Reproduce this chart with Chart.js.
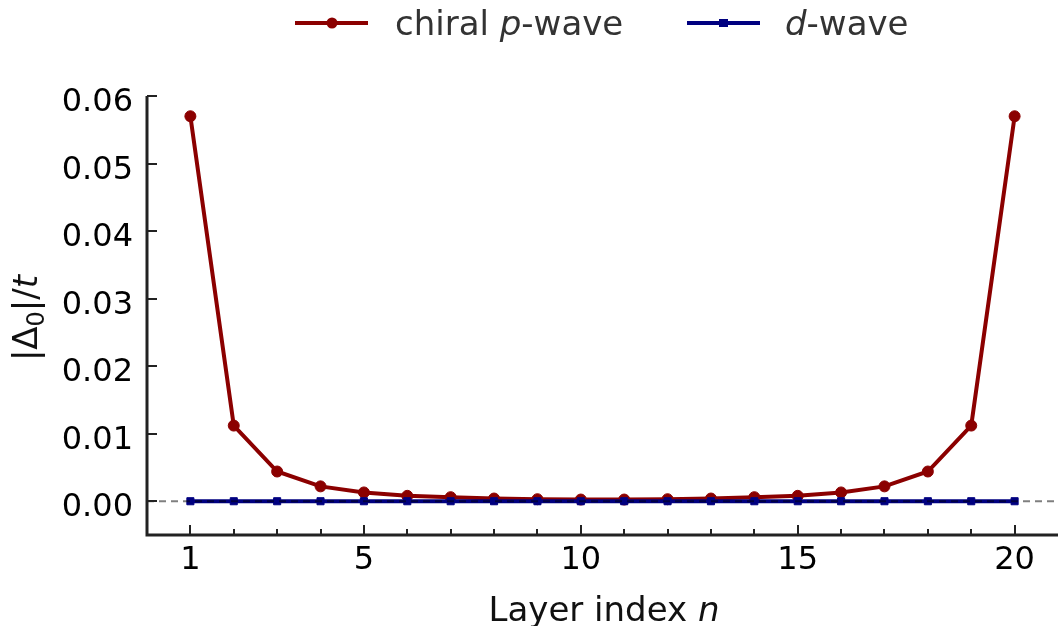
<!DOCTYPE html>
<html>
<head>
<meta charset="utf-8">
<script src="https://cdn.jsdelivr.net/npm/chart.js@4.4.1/dist/chart.umd.min.js"></script>
<style>
  html, body { margin: 0; padding: 0; background: #ffffff; overflow: hidden; }
  #wrap { position: relative; width: 1058px; height: 626px; }
</style>
</head>
<body>
<div id="wrap"><canvas id="c"></canvas></div>
<script>
// ---- data ----
const layers = [1,2,3,4,5,6,7,8,9,10,11,12,13,14,15,16,17,18,19,20];
const pWave = [0.0570,0.0112,0.0044,0.0022,0.0013,0.0008,0.0006,0.0004,0.0003,0.00025,
               0.00025,0.0003,0.0004,0.0006,0.0008,0.0013,0.0022,0.0044,0.0112,0.0570];
const dWave = [0,0,0,0,0,0,0,0,0,0,0,0,0,0,0,0,0,0,0,0];
const xMajorTicks = [1,5,10,15,20];
const xMinorTicks = [1,2,3,4,5,6,7,8,9,10,11,12,13,14,15,16,17,18,19,20];
const yTicks = [0,0.01,0.02,0.03,0.04,0.05,0.06];
const yTickLabels = ['0.00','0.01','0.02','0.03','0.04','0.05','0.06'];
const seriesNames = ['chiral p-wave', 'd-wave'];

const RED = '#8b0000';
const NAVY = '#000080';
const FONT = '"DejaVu Sans", Verdana, sans-serif';

function pts(ys) { return layers.map((x, i) => ({ x: x, y: ys[i] })); }

// draws text made of runs [{t, italic, sub}]
function drawRuns(ctx, runs, x, y, size, align) {
  const fontFor = r => (r.italic ? 'italic ' : '') + (r.sub ? Math.round(size * 0.7) : size) + 'px ' + FONT;
  let total = 0;
  runs.forEach(r => { ctx.font = fontFor(r); total += ctx.measureText(r.t).width; });
  let cx = align === 'center' ? x - total / 2 : x;
  ctx.textAlign = 'left';
  ctx.textBaseline = 'alphabetic';
  runs.forEach(r => {
    ctx.font = fontFor(r);
    ctx.fillText(r.t, cx, y + (r.sub ? size * 0.22 : 0));
    cx += ctx.measureText(r.t).width;
  });
}

const decor = {
  id: 'decor',
  afterDatasetsDraw(chart) {
    const { ctx, chartArea: a, scales: { x, y } } = chart;
    // dashed zero line
    ctx.save();
    ctx.strokeStyle = 'rgba(0,0,0,0.5)';
    ctx.lineWidth = 2;
    ctx.setLineDash([7, 5]);
    const y0 = y.getPixelForValue(0);
    ctx.beginPath(); ctx.moveTo(a.left, y0); ctx.lineTo(a.right, y0); ctx.stroke();
    ctx.restore();
  },
  afterDraw(chart) {
    const { ctx, chartArea: a, scales: { x, y } } = chart;
    ctx.save();
    // spines
    ctx.strokeStyle = '#222';
    ctx.lineWidth = 3;
    ctx.beginPath();
    ctx.moveTo(a.left, a.top); ctx.lineTo(a.left, a.bottom); ctx.lineTo(a.right, a.bottom);
    ctx.stroke();
    // inward ticks
    ctx.lineWidth = 2;
    ctx.beginPath();
    yTicks.forEach(v => { const py = Math.round(y.getPixelForValue(v)); ctx.moveTo(a.left, py); ctx.lineTo(a.left + 10, py); });
    xMinorTicks.forEach(v => {
      const px = Math.round(x.getPixelForValue(v));
      const len = xMajorTicks.includes(v) ? 10 : 6;
      ctx.moveTo(px, a.bottom); ctx.lineTo(px, a.bottom - len);
    });
    ctx.stroke();

    // y tick labels
    ctx.fillStyle = '#000';
    ctx.font = '32px ' + FONT;
    ctx.textAlign = 'right';
    ctx.textBaseline = 'alphabetic';
    yTicks.forEach((v, i) => {
      ctx.fillText(yTickLabels[i], a.left - 14, y.getPixelForValue(v) + 15);
    });

    // axis titles
    ctx.fillStyle = '#111';
    drawRuns(ctx, [{ t: 'Layer index ' }, { t: 'n', italic: true }], 604, 621, 34, 'center');
    ctx.save();
    ctx.translate(37, 318);
    ctx.rotate(-Math.PI / 2);
    drawRuns(ctx, [{ t: '|Δ' }, { t: '0', sub: true }, { t: '|/' }, { t: 't', italic: true }], 0, 0, 34, 'center');
    ctx.restore();

    // legend
    const ly = 23;
    ctx.lineWidth = 4;
    ctx.strokeStyle = RED; ctx.fillStyle = RED;
    ctx.beginPath(); ctx.moveTo(295, ly); ctx.lineTo(368, ly); ctx.stroke();
    ctx.beginPath(); ctx.arc(332, ly, 5.5, 0, Math.PI * 2); ctx.fill();
    ctx.strokeStyle = NAVY; ctx.fillStyle = NAVY;
    ctx.beginPath(); ctx.moveTo(687, ly); ctx.lineTo(760, ly); ctx.stroke();
    ctx.fillRect(719, ly - 4, 9, 8);
    ctx.fillStyle = '#333';
    drawRuns(ctx, [{ t: 'chiral ' }, { t: 'p', italic: true }, { t: '-wave' }], 395, 35, 34, 'left');
    drawRuns(ctx, [{ t: 'd', italic: true }, { t: '-wave' }], 785, 35, 34, 'left');
    ctx.restore();
  }
};

new Chart(document.getElementById('c'), {
  type: 'line',
  data: {
    datasets: [
      {
        label: seriesNames[0], data: pts(pWave), order: 2,
        borderColor: RED, backgroundColor: RED, borderWidth: 4,
        pointStyle: 'circle', pointRadius: 5.5, pointBorderWidth: 1,
        pointBackgroundColor: RED, pointBorderColor: RED, tension: 0
      },
      {
        label: seriesNames[1], data: pts(dWave), order: 1,
        borderColor: NAVY, backgroundColor: NAVY, borderWidth: 4,
        pointStyle: 'rect', pointRadius: 5, pointBorderWidth: 1,
        pointBackgroundColor: NAVY, pointBorderColor: NAVY, tension: 0
      }
    ]
  },
  options: {
    responsive: true,
    maintainAspectRatio: false,
    devicePixelRatio: 1,
    animation: false,
    layout: { autoPadding: false, padding: { top: 96, left: 0, right: 0, bottom: 0 } },
    plugins: { legend: { display: false }, tooltip: { enabled: false } },
    scales: {
      x: {
        type: 'linear', min: 0, max: 21,
        afterFit: s => { s.height = 91; s.paddingLeft = 0; s.paddingRight = 0; },
        afterBuildTicks: s => { s.ticks = xMinorTicks.map(v => ({ value: v })); },
        grid: { display: false, drawTicks: false },
        border: { display: false },
        ticks: {
          autoSkip: false, maxRotation: 0, padding: 6, color: '#000',
          font: { family: FONT, size: 32 },
          callback: v => xMajorTicks.includes(v) ? String(v) : ''
        }
      },
      y: {
        type: 'linear', min: -0.005, max: 0.06,
        afterFit: s => { s.width = 147; s.paddingTop = 0; s.paddingBottom = 0; },
        afterBuildTicks: s => { s.ticks = yTicks.map(v => ({ value: v })); },
        grid: { display: false, drawTicks: false },
        border: { display: false },
        ticks: { display: false }
      }
    }
  },
  plugins: [decor]
});
</script>
</body>
</html>
